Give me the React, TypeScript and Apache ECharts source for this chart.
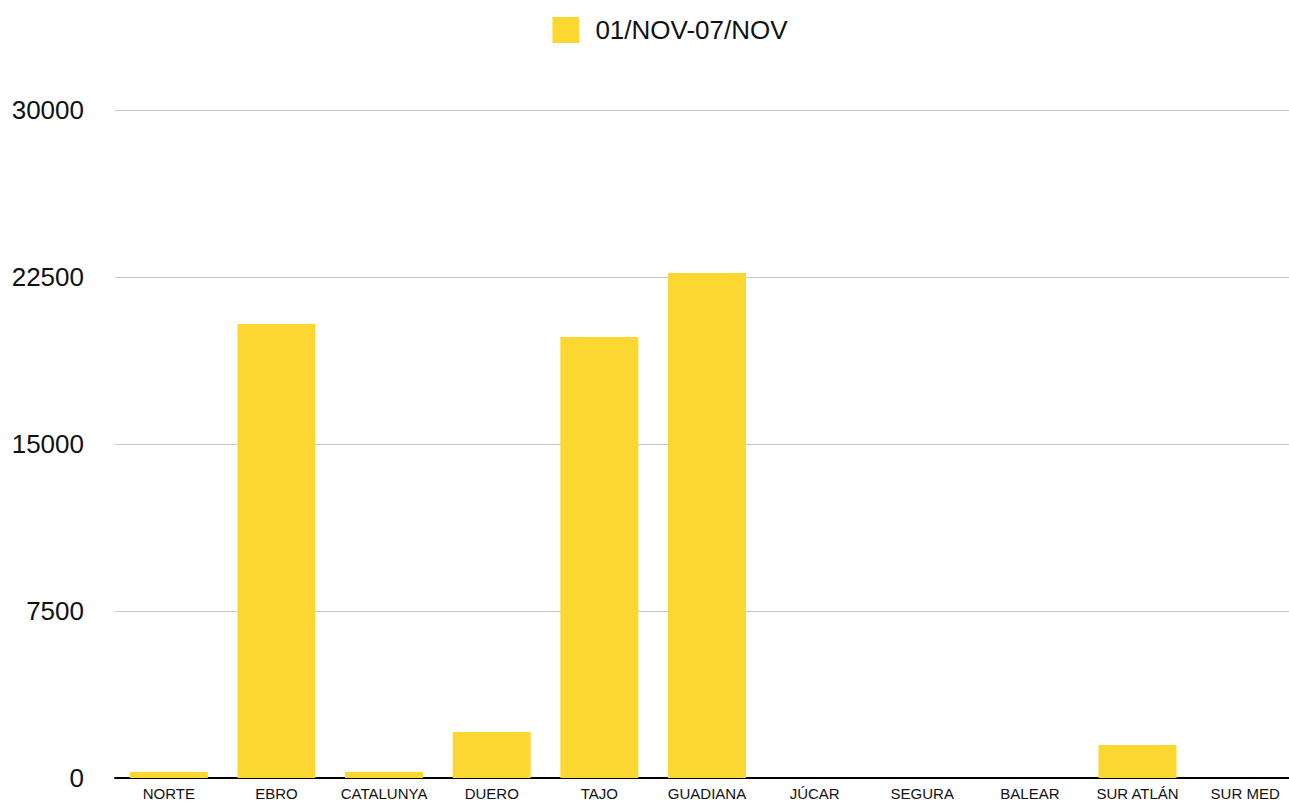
import React, { useEffect, useRef } from "react";
import * as echarts from "echarts";

const categories = ["NORTE", "EBRO", "CATALUNYA", "DUERO", "TAJO", "GUADIANA", "JÚCAR", "SEGURA", "BALEAR", "SUR ATLÁN", "SUR MED"];
const seriesName = "01/NOV-07/NOV";
const values = [270, 20390, 270, 2070, 19800, 22680, 0, 0, 0, 1480, 0];
const yTicks = { min: 0, max: 30000, interval: 7500 };

const FONT = "'Liberation Sans', Arial, Helvetica, sans-serif";

export default function App() {
  const ref = useRef<HTMLDivElement>(null);
  useEffect(() => {
    if (!ref.current) return;
    const chart = echarts.init(ref.current, undefined, { renderer: "svg" });
    chart.setOption({
      animation: false,
      backgroundColor: "#ffffff",
      textStyle: { fontFamily: FONT },
      legend: {
        top: 12,
        left: "center",
        itemWidth: 27,
        itemHeight: 26,
        icon: "rect",
        data: [seriesName],
        textStyle: { fontSize: 26, color: "#111", fontFamily: FONT, padding: [0, 0, 0, 11] },
      },
      grid: { left: 115, right: 41, top: 110, bottom: 24, containLabel: false },
      xAxis: {
        type: "category",
        data: categories,
        axisTick: { show: false },
        axisLine: { lineStyle: { color: "#000", width: 2 } },
        axisLabel: { fontSize: 15, color: "#111", margin: 8, fontFamily: FONT, interval: 0 },
      },
      yAxis: {
        type: "value",
        min: yTicks.min,
        max: yTicks.max,
        interval: yTicks.interval,
        axisLine: { show: false },
        axisTick: { show: false },
        splitLine: { lineStyle: { color: "#c6c6c6", width: 1 } },
        axisLabel: {
          fontSize: 26,
          color: "#111",
          margin: 31,
          fontFamily: FONT,
          formatter: (v: number) => String(v),
        },
      },
      series: [
        {
          name: seriesName,
          type: "bar",
          data: values,
          barCategoryGap: "27.5%",
          itemStyle: { color: "#FDD731" },
        },
      ],
    });
    return () => chart.dispose();
  }, []);
  return (
    <div style={{ position: "fixed", left: 0, top: 0, width: 1289, height: 802, overflow: "hidden", background: "#fff" }}>
      <div ref={ref} style={{ width: 1340, height: 802 }} />
    </div>
  );
}
